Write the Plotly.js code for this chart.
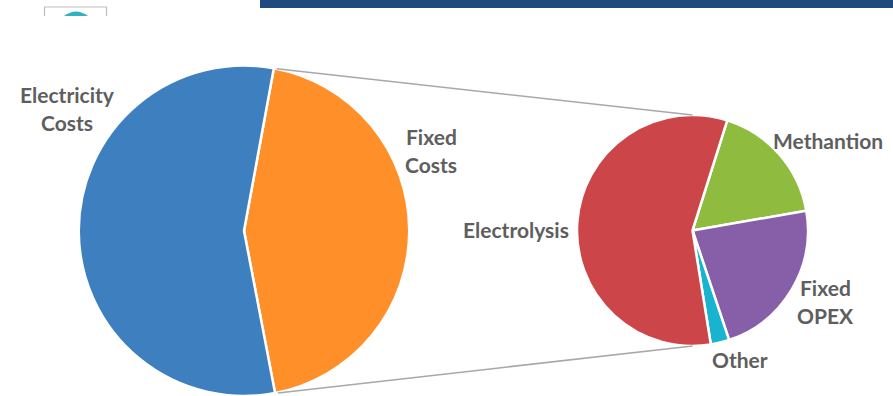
<!DOCTYPE html>
<html>
<head>
<meta charset="utf-8">
<script src="https://cdn.plot.ly/plotly-3.0.1.min.js"></script>
<style>html,body{margin:0;padding:0;background:#fff;overflow:hidden}#chart{width:893px;height:396px}</style>
</head>
<body>
<div id="chart"></div>
<script>
// Share of total cost, with the fixed costs broken down in the second pie
const totalLabels = ['Fixed Costs', 'Electricity Costs'];
const totalValues = [44.1, 55.9];
const totalColors = ['#FF9029', '#3E7FBF'];

const fixedLabels = ['Methantion', 'Fixed OPEX', 'Other', 'Electrolysis'];
const fixedValues = [17.4, 22.6, 2.6, 57.4];
const fixedColors = ['#8FBC3F', '#875FA8', '#17B3CF', '#CC4549'];

const W = 893, H = 396;
const totalPie = {cx: 244, cy: 231, r: 165.5, rotation: 10.4};
const fixedPie = {cx: 692.5, cy: 230.5, r: 115.5, rotation: 17.5};

// Text placed beside the pies, one entry per line
const labelLines = [
  ['Electricity', 67, 95], ['Costs', 67, 123],
  ['Fixed', 431, 136], ['Costs', 431, 164],
  ['Electrolysis', 516, 229],
  ['Methantion', 828, 140],
  ['Fixed', 825, 287], ['OPEX', 825, 315],
  ['Other', 740, 359]
];

const px = x => x / W;
const py = y => 1 - y / H;

function pieTrace(pie, labels, values, colors) {
  return {
    type: 'pie', sort: false, direction: 'clockwise',
    labels, values, rotation: pie.rotation,
    marker: {colors, line: {color: '#ffffff', width: 2.5}},
    textinfo: 'none',
    domain: {
      x: [px(pie.cx - pie.r), px(pie.cx + pie.r)],
      y: [Math.max(0, py(pie.cy + pie.r)), py(pie.cy - pie.r)]
    }
  };
}

// Point on a pie's rim at a clockwise angle from twelve o'clock
function rim(pie, deg) {
  const a = deg * Math.PI / 180;
  return [pie.cx + pie.r * Math.sin(a), pie.cy - pie.r * Math.cos(a)];
}

function connector(from, to) {
  return {
    type: 'line', xref: 'paper', yref: 'paper', layer: 'above',
    x0: px(from[0]), y0: py(from[1]), x1: px(to[0]), y1: py(to[1]),
    line: {color: '#A8A8A8', width: 1.6}
  };
}

// The fixed-cost slice's two edges lead to the top and bottom of the second pie
const fixedSweep = totalValues[0] / (totalValues[0] + totalValues[1]) * 360;
const connectors = [
  connector(rim(totalPie, totalPie.rotation + 1), rim(fixedPie, 0)),
  connector(rim(totalPie, totalPie.rotation + fixedSweep - 1), rim(fixedPie, 180))
];

// Page header remnants along the top edge
const header = [
  {type: 'rect', xref: 'paper', yref: 'paper', x0: px(260), x1: 1, y0: py(8), y1: 1,
   fillcolor: '#1F4A7F', line: {width: 0}},
  {type: 'path', xref: 'paper', yref: 'paper',
   path: `M${px(44.5)},${py(16)} L${px(44.5)},${py(7)} L${px(106.5)},${py(7)} L${px(106.5)},${py(16)}`,
   line: {color: '#BDBDBD', width: 1.2}},
  {type: 'path', xref: 'paper', yref: 'paper',
   path: `M${px(64)},${py(16)} Q${px(76)},${py(7)} ${px(88)},${py(16)} Z`,
   fillcolor: '#2FB3C4', line: {width: 0}}
];

const annotations = labelLines.map(([text, x, y]) => ({
  text, x: px(x), y: py(y), xref: 'paper', yref: 'paper',
  xanchor: 'center', yanchor: 'middle', showarrow: false,
  font: {family: 'Lato, "Open Sans", sans-serif', size: 21, weight: 700, color: '#5E5E5E'}
}));

Plotly.newPlot('chart', [
  pieTrace(totalPie, totalLabels, totalValues, totalColors),
  pieTrace(fixedPie, fixedLabels, fixedValues, fixedColors)
], {
  width: W, height: H,
  margin: {l: 0, r: 0, t: 0, b: 0},
  paper_bgcolor: '#ffffff',
  showlegend: false,
  shapes: header.concat(connectors),
  annotations
}, {displayModeBar: false, staticPlot: true});
</script>
</body>
</html>
